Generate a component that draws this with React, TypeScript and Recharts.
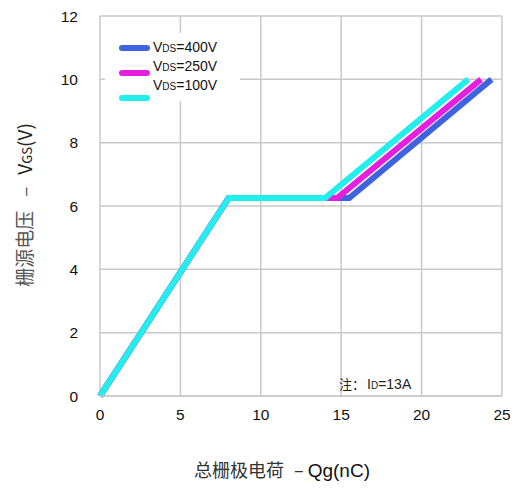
import React from 'react';
import { LineChart, Line, XAxis, YAxis, CartesianGrid } from 'recharts';

const xTicks = [0, 5, 10, 15, 20, 25];
const yTicks = [0, 2, 4, 6, 8, 10, 12];

// Qg (nC) breakpoints and matching Vgs (V) per curve
const qg400 = [0, 8, 15.5, 24.35];
const vgs400 = [0, 6.25, 6.25, 10];
const qg250 = [0, 8, 14.75, 23.7];
const vgs250 = [0, 6.25, 6.25, 10];
const qg100 = [0, 8, 14.0, 22.9];
const vgs100 = [0, 6.25, 6.25, 10];

const series = [
  { key: '400', label: '400V', color: '#3f63e0', qg: qg400, vgs: vgs400 },
  { key: '250', label: '250V', color: '#e61ee0', qg: qg250, vgs: vgs250 },
  { key: '100', label: '100V', color: '#22eeee', qg: qg100, vgs: vgs100 },
];

const toPoints = (qg: number[], vgs: number[]) => qg.map((q, i) => ({ q, v: vgs[i] }));

const tickStyle = { fill: '#111', fontSize: 15.5, fontFamily: 'Liberation Sans, Arial, sans-serif' };

const LegendBox = () => (
  <div
    style={{
      position: 'absolute',
      left: 105,
      top: 33,
      width: 135,
      height: 68,
      background: '#fff',
      fontFamily: 'Liberation Sans, Arial, sans-serif',
      color: '#111',
    }}
  >
    {series.map((s, i) => (
      <React.Fragment key={s.key}>
        <div
          style={{
            position: 'absolute',
            left: 14,
            top: [12, 37, 62][i],
            width: 31,
            height: 6,
            borderRadius: 3,
            background: s.color,
          }}
        />
        <div style={{ position: 'absolute', left: 48, top: [7, 26, 45][i], fontSize: 14, lineHeight: '15px', whiteSpace: 'nowrap' }}>
          V<span style={{ fontSize: 10 }}>DS</span>={s.label}
        </div>
      </React.Fragment>
    ))}
  </div>
);

export default function App() {
  return (
    <div style={{ position: 'absolute', left: 0, top: 0, width: 515, height: 489, background: '#fff' }}>
      <LineChart width={515} height={489} margin={{ top: 16, right: 13, bottom: 63, left: 0 }}>
        <CartesianGrid stroke="#c8c8c8" strokeWidth={1.5} horizontalValues={yTicks} verticalValues={xTicks} />
        <XAxis
          type="number"
          dataKey="q"
          domain={[0, 25]}
          ticks={xTicks}
          height={30}
          axisLine={{ stroke: '#c8c8c8', strokeWidth: 1.5 }}
          tickLine={false}
          tick={tickStyle}
          tickMargin={7}
          allowDuplicatedCategory={false}
        />
        <YAxis
          type="number"
          dataKey="v"
          domain={[0, 12]}
          ticks={yTicks}
          width={100}
          axisLine={false}
          tickLine={false}
          tick={tickStyle}
          tickMargin={16}
        />
        {series.map((s) => (
          <Line
            key={s.key}
            data={toPoints(s.qg, s.vgs)}
            dataKey="v"
            type="linear"
            stroke={s.color}
            strokeWidth={6}
            dot={false}
            isAnimationActive={false}
            legendType="none"
          />
        ))}
      </LineChart>
      <LegendBox />
      <svg width={515} height={489} style={{ position: 'absolute', left: 0, top: 0, pointerEvents: 'none' }}>
        <text
          transform="translate(32 205) rotate(-90)"
          textAnchor="middle"
          fill="#555"
          fontSize={19}
          fontFamily="Noto Sans CJK SC, Liberation Sans, sans-serif"
        >
          栅源电压<tspan dx={14}>–</tspan>
          <tspan dx={12} fill="#222">V</tspan>
          <tspan fontSize={13} fill="#222">GS</tspan>
          <tspan fill="#222">(V)</tspan>
        </text>
        <text x={282} y={477} textAnchor="middle" fill="#333" fontSize={18} fontFamily="Noto Sans CJK SC, Liberation Sans, sans-serif">
          总栅极电荷<tspan dx={10}>–</tspan>
          <tspan dx={4} fontSize={19} fontFamily="Liberation Sans, Arial, sans-serif" fill="#111">Qg(nC)</tspan>
        </text>
        <text x={339} y={389} fill="#222" fontSize={13} fontFamily="Noto Sans CJK SC, Liberation Sans, sans-serif">
          注：<tspan dx={2} fontFamily="Liberation Sans, Arial, sans-serif" fontSize={14}>I</tspan>
          <tspan fontSize={10} fontFamily="Liberation Sans, Arial, sans-serif">D</tspan>
          <tspan fontSize={14} fontFamily="Liberation Sans, Arial, sans-serif">=13A</tspan>
        </text>
      </svg>
    </div>
  );
}
